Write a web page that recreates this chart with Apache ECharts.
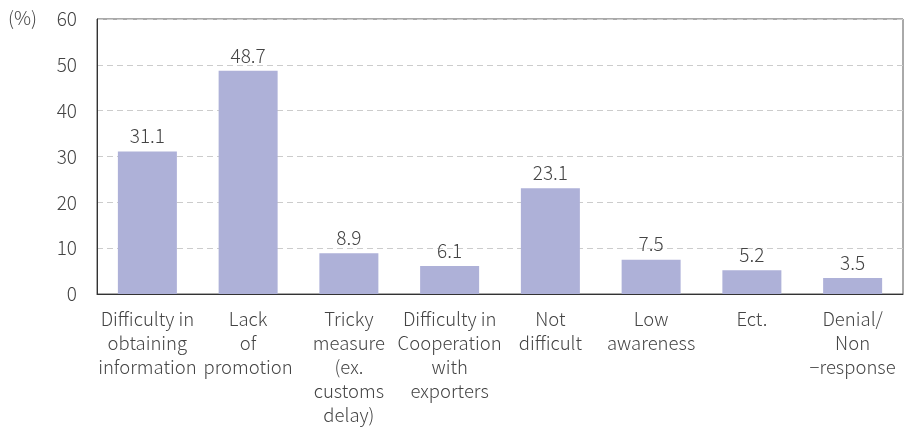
<!DOCTYPE html>
<html><head><meta charset="utf-8">
<script src="https://cdn.jsdelivr.net/npm/echarts@6/dist/echarts.min.js"></script>
<style>html,body{margin:0;padding:0;background:#fff}#c{width:904px;height:427px}</style>
</head><body><div id="c"></div>
<script>
const categories = ["Difficulty in\nobtaining\ninformation","Lack\nof\npromotion","Tricky\nmeasure\n(ex.\ncustoms\ndelay)","Difficulty in\nCooperation\nwith\nexporters","Not\ndifficult","Low\nawareness","Ect.","Denial/\nNon\n\u2212response"];
const values = [31.1, 48.7, 8.9, 6.1, 23.1, 7.5, 5.2, 3.5];
const yTicks = [0, 10, 20, 30, 40, 50, 60];
const unitLabel = "(%)";

const font = '"Noto Sans CJK KR", "Noto Sans", sans-serif';
const chart = echarts.init(document.getElementById('c'));
chart.setOption({
  animation: false,
  textStyle: {fontFamily: font},
  graphic: [{type:'text', left: 8, top: 8, style:{text: unitLabel, fontSize: 19, fill:'#444', fontFamily: font, fontWeight: 300}}],
  grid: {left: 97, right: 1, top: 19, bottom: 129, show: true, borderColor: '#555', borderWidth: 1},
  xAxis: {
    type: 'category', data: categories,
    axisLine: {lineStyle: {color: '#333'}},
    axisTick: {show: false},
    axisLabel: {interval: 0, fontSize: 18.5, color: '#444', lineHeight: 24, margin: 13, fontFamily: font, fontWeight: 300}
  },
  yAxis: {
    type: 'value', min: yTicks[0], max: yTicks[yTicks.length-1], interval: 10,
    axisLine: {show: true, lineStyle: {color: '#333'}},
    axisTick: {show: false},
    axisLabel: {fontSize: 19, color: '#444', margin: 20, fontFamily: font, fontWeight: 300},
    splitLine: {lineStyle: {color: '#ccc', type: [6, 4]}}
  },
  series: [{
    type: 'bar', data: values, barWidth: 59,
    itemStyle: {color: '#AEB1D8'},
    label: {show: true, position: 'top', fontSize: 19, color: '#444', distance: 6, fontFamily: font, fontWeight: 300,
      formatter: p => p.value.toFixed(1)}
  }]
});
</script></body></html>
